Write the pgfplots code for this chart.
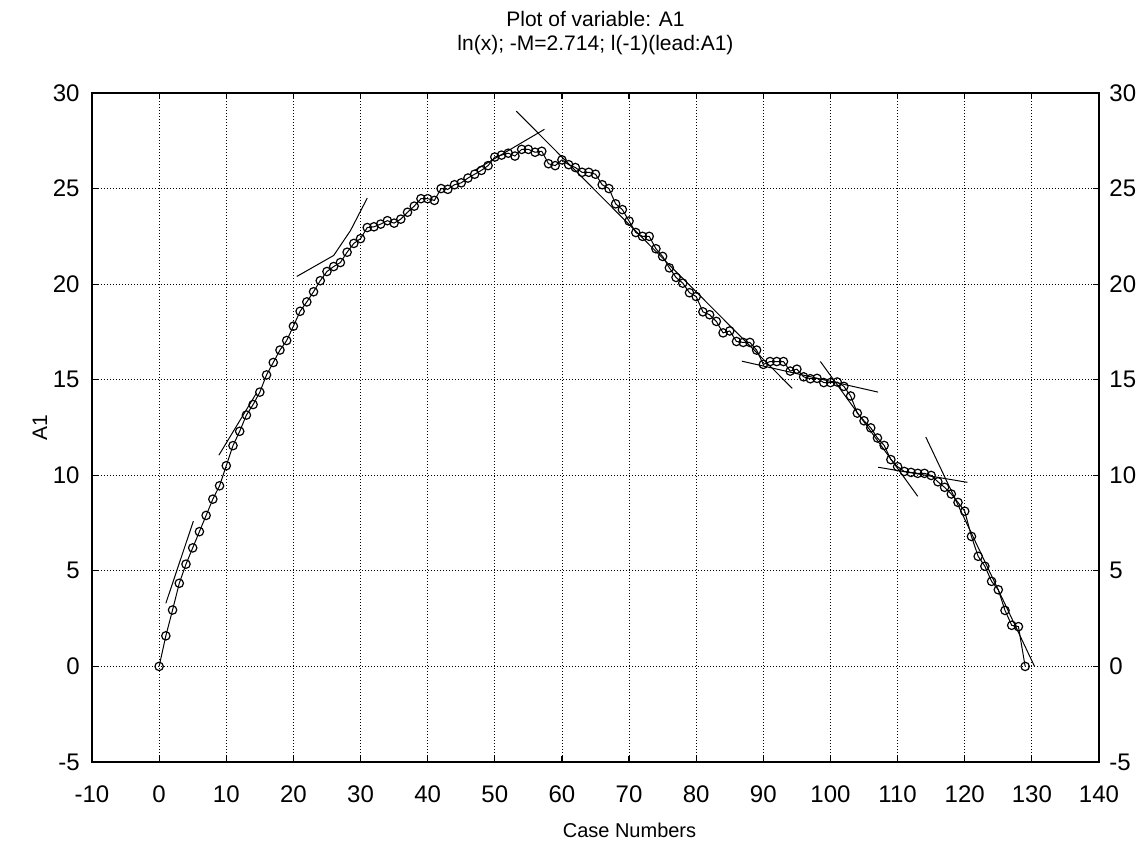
\documentclass[border=0pt]{standalone}
\usepackage{fontspec}
\setmainfont{Liberation Sans}
\usepackage{pgfplots}
\usepackage{pgfplotstable}
\pgfplotsset{compat=1.18}

\pgfplotstableread{
x y
0 0
1 1.6
2 2.95
3 4.35
4 5.35
5 6.2
6 7.05
7 7.9
8 8.75
9 9.45
10 10.5
11 11.55
12 12.3
13 13.15
14 13.7
15 14.35
16 15.25
17 15.9
18 16.55
19 17.05
20 17.8
21 18.58
22 19.07
23 19.6
24 20.18
25 20.66
26 20.92
27 21.13
28 21.67
29 22.13
30 22.38
31 22.96
32 23.0
33 23.14
34 23.32
35 23.19
36 23.4
37 23.76
38 24.08
39 24.47
40 24.47
41 24.38
42 25.0
43 24.96
44 25.2
45 25.3
46 25.55
47 25.75
48 25.95
49 26.2
50 26.65
51 26.75
52 26.85
53 26.7
54 27.05
55 27.05
56 26.9
57 26.95
58 26.3
59 26.2
60 26.5
61 26.25
62 26.1
63 25.85
64 25.85
65 25.75
66 25.2
67 25.0
68 24.2
69 23.9
70 23.3
71 22.7
72 22.5
73 22.5
74 21.85
75 21.45
76 20.85
77 20.35
78 20.05
79 19.55
80 19.35
81 18.55
82 18.4
83 18.05
84 17.45
85 17.55
86 17.0
87 16.95
88 16.95
89 16.55
90 15.8
91 15.95
92 15.95
93 15.95
94 15.45
95 15.55
96 15.15
97 15.05
98 15.07
99 14.85
100 14.85
101 14.88
102 14.65
103 14.15
104 13.25
105 12.85
106 12.48
107 11.95
108 11.56
109 10.82
110 10.45
111 10.2
112 10.15
113 10.1
114 10.1
115 9.99
116 9.66
117 9.37
118 9.02
119 8.58
120 8.12
121 6.8
122 5.76
123 5.24
124 4.45
125 4.01
126 2.93
127 2.15
128 2.08
129 0
}\dataA

\begin{document}
\begin{tikzpicture}
\begin{axis}[
  scale only axis, width=503.5pt, height=334.5pt,
  xmin=-10, xmax=140, ymin=-5, ymax=30,
  xtick={-10,0,...,140}, ytick={-5,0,...,30},
  grid=major,
  grid style={black, line width=0.4pt, dash pattern=on 0.6pt off 0.9pt},
  axis line style={black, line width=0.9pt},
  tick align=inside, major tick length=3pt,
  tick style={black, line width=0.6pt},
  /pgf/number format/assume math mode=true,
  ticklabel style={font=\fontsize{12}{14}\selectfont},
  xticklabel style={inner sep=0pt, anchor=north, yshift=-11.5pt},
  yticklabel style={inner sep=0pt, anchor=east, xshift=-6pt},
]
\addplot[black, line width=0.5pt, mark=o, mark size=2.1pt,
  mark options={solid, line width=0.6pt}] table[x=x, y=y] {\dataA};
\addplot[black, line width=0.5pt] coordinates {(1,3.3) (5.1,7.6)};
\addplot[black, line width=0.5pt] coordinates {(8.9,11.05) (14.5,14.3)};
\addplot[black, line width=0.5pt] coordinates {(20.5,20.4) (26,21.5) (28.5,22.8) (31,24.5)};
\addplot[black, line width=0.5pt] coordinates {(47,25.95) (57.4,28.1)};
\addplot[black, line width=0.5pt] coordinates {(53.2,29.05) (94.3,14.55)};
\addplot[black, line width=0.5pt] coordinates {(86.8,15.97) (107.1,14.35)};
\addplot[black, line width=0.5pt] coordinates {(98.5,15.95) (113,8.9)};
\addplot[black, line width=0.5pt] coordinates {(107.1,10.42) (120.4,9.63)};
\addplot[black, line width=0.5pt] coordinates {(114.2,12.0) (130.4,0)};
\coordinate (ll) at (rel axis cs:0,0);
\coordinate (ur) at (rel axis cs:1,1);
\coordinate (tt) at (rel axis cs:0.5,1);
\coordinate (bb) at (rel axis cs:0.5,0);
\coordinate (lm) at (rel axis cs:0,0.5);
\end{axis}
\begin{axis}[
  scale only axis, width=503.5pt, height=334.5pt,
  xmin=-10, xmax=140, ymin=-5, ymax=30,
  hide x axis, axis y line*=right,
  ytick={-5,0,...,30},
  axis line style={black, line width=0.9pt},
  tick align=inside, major tick length=3pt,
  tick style={black, line width=0.6pt},
  /pgf/number format/assume math mode=true,
  ticklabel style={font=\fontsize{12}{14}\selectfont},
  yticklabel style={inner sep=0pt, anchor=west, xshift=5pt},
]
\end{axis}
\node[font=\fontsize{10.5}{12}\selectfont] at ([yshift=37pt]tt) {Plot of variable: A1};
\node[font=\fontsize{10.5}{12}\selectfont] at ([yshift=24pt]tt) {ln(x); -M=2.714; l(-1)(lead:A1)};
\node[font=\fontsize{10}{12}\selectfont] at ([xshift=17pt,yshift=-34pt]bb) {Case Numbers};
\node[font=\fontsize{10.5}{12}\selectfont, rotate=90] at ([xshift=-26pt]lm) {A1};
\pgfresetboundingbox
\path ([shift={(-46pt,-40.5pt)}]ll) rectangle ([shift={(21.5pt,46.5pt)}]ur);
\end{tikzpicture}
\end{document}
